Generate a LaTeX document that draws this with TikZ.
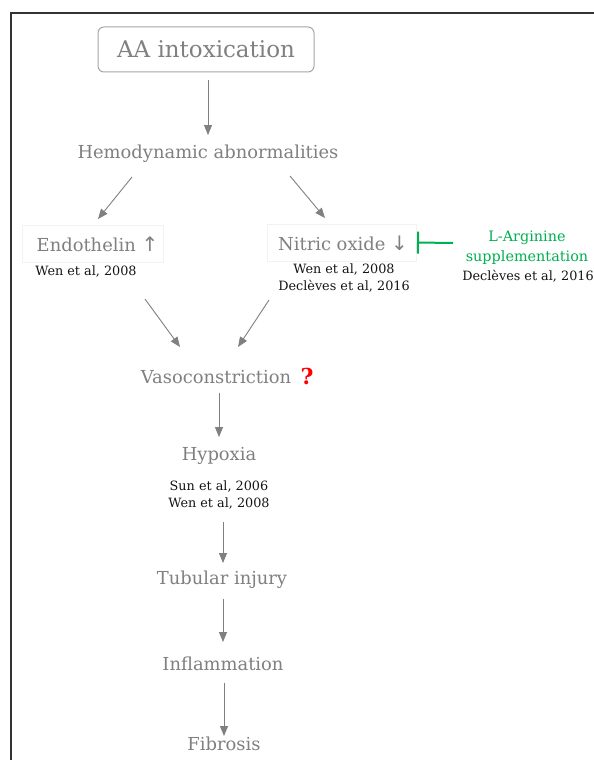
\documentclass[tikz,border=0pt]{standalone}
\usepackage{fontspec}
\setmainfont{DejaVu Serif}
\newfontfamily\arrowfont{DejaVu Sans}
\usetikzlibrary{arrows.meta,calc}
\definecolor{txtgray}{HTML}{808080}
\definecolor{linegray}{HTML}{808080}
\definecolor{boxgray}{HTML}{A6A6A6}
\definecolor{faint}{HTML}{F2F2F2}
\definecolor{inhgreen}{HTML}{00B050}
\definecolor{refblack}{HTML}{141414}
\begin{document}
\begin{tikzpicture}[x=1pt,y=-1pt,
  every node/.style={inner sep=0pt, outer sep=0pt},
  big/.style={font=\fontsize{23}{27}\selectfont, text=txtgray},
  stage/.style={font=\fontsize{17.9}{21}\selectfont, text=txtgray},
  ref/.style={font=\fontsize{12.8}{17.5}\selectfont, text=refblack},
  grn/.style={font=\fontsize{14.4}{20}\selectfont, text=inhgreen},
  arr/.style={draw=linegray, line width=0.9pt, -{Triangle[length=10pt,width=8pt]}},
  faintbox/.style={draw=faint, line width=0.8pt},
  inh/.style={draw=inhgreen, line width=2pt, -{Bar[width=22pt,line width=2pt]}}]
\useasboundingbox (0,0) rectangle (594,760);
\fill[white] (0,0) rectangle (594,760);
\draw[line width=1.5pt, draw=black!80] (11,760) -- (11,13) -- (594,13);

\node[big, draw=boxgray, line width=1pt, rounded corners=6pt,
      minimum width=216pt, minimum height=45pt] (aa) at (206,49.5) {AA intoxication};
\node[stage] (hemo) at (208,154) {Hemodynamic abnormalities};

\node[faintbox, minimum width=141pt, minimum height=37pt] (endobox) at (92.5,243.5) {};
\node[stage] (endo) at (97.5,244) {Endothelin {\arrowfont\fontsize{20}{24}\selectfont↑}};
\node[ref] (endoref) at (86,272) {Wen et al, 2008};

\node[faintbox, minimum width=149pt, minimum height=37pt] (nobox) at (341.5,242.5) {};
\node[stage] (no) at (343,243) {Nitric oxide {\arrowfont\fontsize{20}{24}\selectfont↓}};
\node[ref, align=center] (noref) at (344,278) {Wen et al, 2008\\Declèves et al, 2016};

\node[grn, align=center] (larg) at (527,247.5) {L-Arginine\\supplementation};
\node[ref] (largref) at (528,276) {Declèves et al, 2016};

\node[stage] (vaso) at (216,377) {Vasoconstriction};
\node[font=\bfseries\fontsize{22}{26}\selectfont, text=red] (q) at (307,376) {?};

\node[stage] (hyp) at (219,456) {Hypoxia};
\node[ref, align=center] (hypref) at (219,495) {Sun et al, 2006\\Wen et al, 2008};

\node[stage] (tub) at (222,580) {Tubular injury};
\node[stage] (infl) at (223,664) {Inflammation};
\node[stage] (fib) at (224,744) {Fibrosis};

% connectors
\draw[arr] ($(aa)+(2,30.5)$) -- ($(hemo)+(0,-19)$);
\draw[arr] ($(hemo)+(-76,23)$) -- ($(endobox)+(5.5,-24.5)$);
\draw[arr] ($(hemo)+(82,22)$) -- ($(nobox)+(-16.5,-24.5)$);
\draw[arr] ($(endobox)+(52.5,55.5)$) -- ($(vaso)+(-36,-30)$);
\draw[arr] ($(nobox)+(-72.5,57.5)$) -- ($(vaso)+(22,-30)$);
\draw[arr] ($(vaso)+(3,16)$) -- ($(hyp)+(0,-19)$);
\draw[arr] ($(hypref)+(4,27)$) -- ($(tub)+(1,-17)$);
\draw[arr] ($(tub)+(1,19)$) -- ($(infl)+(0,-22)$);
\draw[arr] ($(infl)+(1,19)$) -- ($(fib)+(0,-8)$);
\draw[inh] ($(larg)+(-74,-4.5)$) -- ($(nobox.east)+(1,0)$);
\end{tikzpicture}
\end{document}
